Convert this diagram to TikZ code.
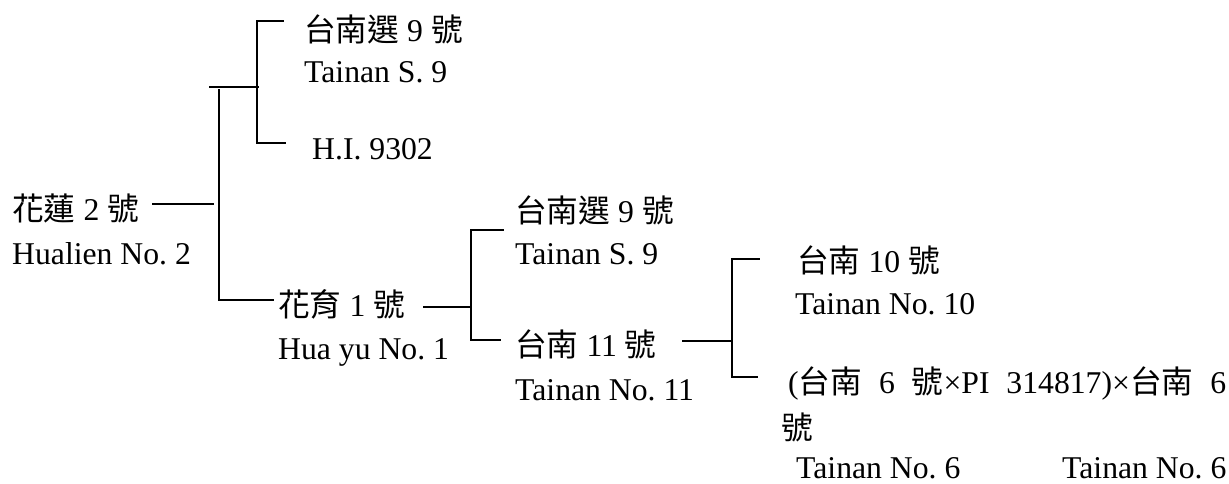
\documentclass[tikz,border=0pt]{standalone}
\usepackage{fontspec}
\setmainfont{Liberation Serif}
\newfontfamily\cjk{Noto Sans CJK TC}
\newcommand{\zh}[1]{{\cjk #1}}
\frenchspacing
\begin{document}
\begin{tikzpicture}[x=1pt,y=-1pt,
  lbl/.style={anchor=base west,inner sep=0pt,font=\fontsize{31.7}{38}\selectfont},
  conn/.style={line width=1.8pt,line cap=rect}]
\useasboundingbox[fill=white] (0,0) rectangle (1229,484);
% labels
\node[lbl] (ts9a) at (304,42) {\zh{台南選} 9 \zh{號}};
\node[lbl] (ts9ae) at (304,83) {Tainan S. 9};
\node[lbl] (hi) at (312,160) {H.I. 9302};
\node[lbl] (hl2) at (12,220) {\zh{花蓮} 2 \zh{號}};
\node[lbl] (hl2e) at (12,264) {Hualien No. 2};
\node[lbl] (hy1) at (278,316) {\zh{花育} 1 \zh{號}};
\node[lbl] (hy1e) at (278,359) {Hua yu No. 1};
\node[lbl] (ts9b) at (515,222) {\zh{台南選} 9 \zh{號}};
\node[lbl] (ts9be) at (515,264) {Tainan S. 9};
\node[lbl] (tn11) at (515,356) {\zh{台南} 11 \zh{號}};
\node[lbl] (tn11e) at (515,400) {Tainan No. 11};
\node[lbl] (tn10) at (797,272) {\zh{台南} 10 \zh{號}};
\node[lbl] (tn10e) at (795,314) {Tainan No. 10};
\node[lbl] (cross) at (788,393) {\makebox[438pt][s]{(\zh{台南} 6 \zh{號}×PI 314817)×\zh{台南} 6}};
\node[lbl] (crossb) at (781,439) {\zh{號}};
\node[lbl] (tn6a) at (796,478) {Tainan No. 6};
\node[lbl] (tn6b) at (1062,478) {Tainan No. 6};
% connector points
\coordinate (a1) at (257,21);  \coordinate (a1e) at (283,21);
\coordinate (a2) at (257,143); \coordinate (a2e) at (285,143);
\coordinate (a0) at (210,87);  \coordinate (a0e) at (258,87);
\coordinate (b0) at (219,90);  \coordinate (b1) at (219,300); \coordinate (b1e) at (273,300);
\coordinate (h0) at (153,204); \coordinate (h0e) at (213,204);
\coordinate (c0) at (424,307); \coordinate (c) at (471,307);
\coordinate (c1) at (471,230); \coordinate (c1e) at (503,230);
\coordinate (c2) at (471,340); \coordinate (c2e) at (500,340);
\coordinate (d0) at (683,341); \coordinate (d) at (732,341);
\coordinate (d1) at (732,259); \coordinate (d1e) at (759,259);
\coordinate (d2) at (732,377); \coordinate (d2e) at (757,377);
% connectors
\draw[conn] (a1e) -- (a1) -- (a2) -- (a2e);
\draw[conn] (a0) -- (a0e);
\draw[conn] (b0) -- (b1) -- (b1e);
\draw[conn] (h0) -- (h0e);
\draw[conn] (c0) -- (c);
\draw[conn] (c1e) -- (c1) -- (c2) -- (c2e);
\draw[conn] (d0) -- (d);
\draw[conn] (d1e) -- (d1) -- (d2) -- (d2e);
\end{tikzpicture}
\end{document}
